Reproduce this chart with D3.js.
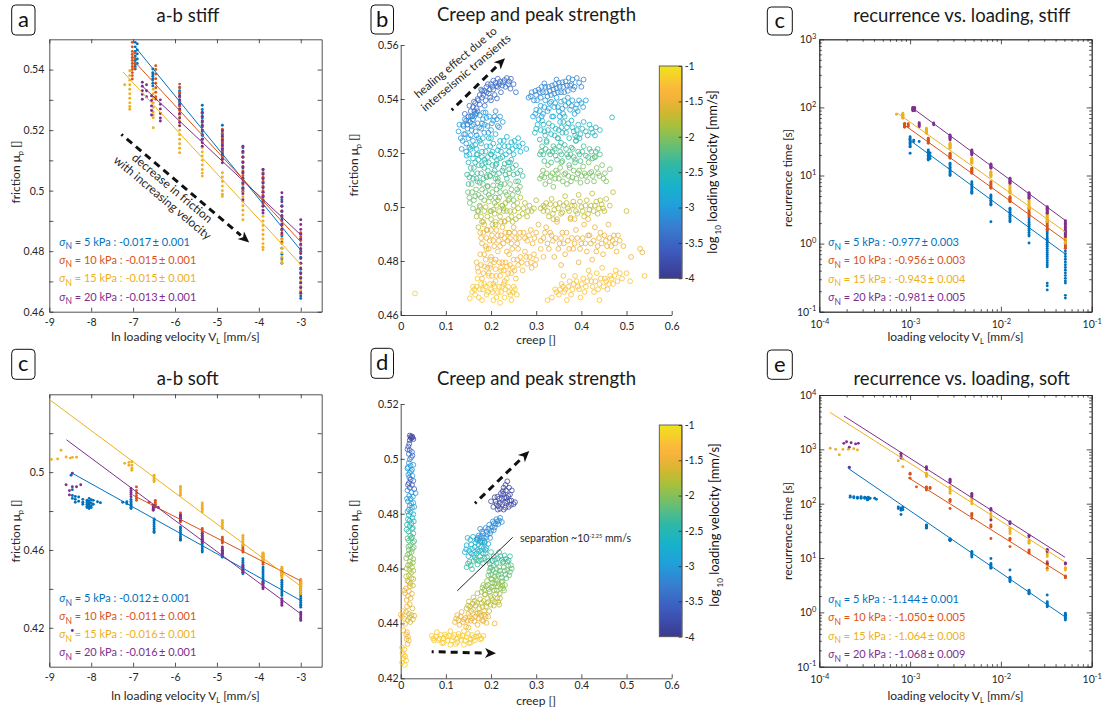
<!DOCTYPE html>
<html><head><meta charset="utf-8">
<script src="https://cdn.jsdelivr.net/npm/d3@7"></script>
<style>
body{margin:0;background:#fff}
svg{font-family:Lato,"Noto Sans",sans-serif}
</style>
</head><body>
<script>
// ---------- shared series info ----------
const stressKPa = [5, 10, 15, 20];
const seriesColors = ['#0072BD', '#D95319', '#EDB120', '#7E2F8E'];

// ---------- (a) a-b stiff : [ln V_L, friction values] ----------
const abStiff5 = [
  [-6.95,[0.549,0.5475,0.546,0.5445,0.543,0.5418,0.541,0.5402]],
  [-6.9,[0.5485,0.5465,0.5452,0.5435,0.542]],
  [-6.53,[0.5402,0.539,0.5378,0.5366,0.5355,0.5346,0.5385,0.537]],
  [-5.89,[0.5341,0.533,0.532,0.531,0.53,0.529,0.528,0.5269]],
  [-5.35,[0.5282,0.5268,0.5255,0.524,0.5225,0.521,0.5195,0.5182,0.517]],
  [-4.87,[0.5216,0.52,0.5185,0.517,0.5155,0.514,0.5125,0.5112,0.5103]],
  [-4.38,[0.5142,0.5125,0.511,0.5092,0.5075,0.5058,0.504,0.5025,0.501,0.4998]],
  [-3.9,[0.507,0.5055,0.504,0.5025,0.501,0.4995,0.498,0.4965,0.4948]],
  [-3.45,[0.497,0.495,0.493,0.491,0.489,0.487,0.485,0.483,0.481,0.479,0.4775,0.476]],
  [-3.0,[0.486,0.484,0.482,0.48,0.478,0.476,0.474,0.4725,0.471,0.4695,0.468,0.4665,0.4652,0.4644]]
];
const abStiff10 = [
  [-7.02,[0.549,0.5475,0.546,0.545,0.544,0.543,0.542,0.541,0.54,0.539,0.538,0.5369]],
  [-6.96,[0.5455,0.5438,0.542,0.5405]],
  [-6.46,[0.5413,0.54,0.5385,0.537,0.5355,0.534,0.5325,0.531,0.5302]],
  [-5.89,[0.5352,0.534,0.5325,0.531,0.5295,0.528,0.5265,0.5252]],
  [-5.35,[0.5258,0.5245,0.523,0.5215,0.52,0.5185,0.517]],
  [-4.87,[0.5203,0.519,0.5175,0.516,0.5145,0.513,0.5115,0.5103]],
  [-4.38,[0.5125,0.511,0.5095,0.508,0.5065,0.505,0.5035,0.502,0.5004]],
  [-3.9,[0.5059,0.5045,0.503,0.5015,0.5,0.4985,0.497,0.4958,0.4948]],
  [-3.45,[0.4948,0.4932,0.4915,0.49,0.4885,0.487,0.4855,0.484,0.4827]],
  [-3.0,[0.486,0.4848,0.4835,0.482,0.4808,0.4794]]
];
const abStiff15 = [
  [-7.2,[0.535]],
  [-7.08,[0.5396,0.538,0.5365,0.535,0.5335,0.532,0.5305,0.529,0.5278,0.5269]],
  [-6.52,[0.5335,0.532,0.5305,0.529,0.5275,0.526,0.525,0.5241,0.5208]],
  [-5.89,[0.5247,0.523,0.5215,0.52,0.5185,0.517,0.5155,0.514,0.5125]],
  [-5.35,[0.5142,0.5128,0.5115,0.51,0.5085,0.507,0.5058,0.5048]],
  [-4.87,[0.5059,0.5045,0.503,0.5015,0.5,0.4988,0.4981]],
  [-4.38,[0.4993,0.498,0.4965,0.495,0.4935,0.492,0.4904]],
  [-3.9,[0.4915,0.49,0.4885,0.487,0.4855,0.484,0.4825,0.4813,0.4805]],
  [-3.45,[0.4838,0.4825,0.481,0.4795,0.478,0.4768,0.476]],
  [-3.0,[0.476,0.4745,0.473,0.4715,0.47,0.4685,0.4672,0.4661]]
];
const abStiff20 = [
  [-6.78,[0.5358,0.5345,0.533,0.5318,0.5302]],
  [-6.68,[0.535,0.533,0.531]],
  [-6.56,[0.5313,0.5298,0.528,0.5265,0.525]],
  [-6.35,[0.53,0.5285,0.527,0.5255,0.524,0.523]],
  [-5.89,[0.5313,0.53,0.5285,0.527,0.5255,0.524,0.5225,0.5214]],
  [-5.35,[0.5258,0.5245,0.523,0.5215,0.52,0.5185,0.517,0.5158,0.5147]],
  [-4.87,[0.5197,0.518,0.5165,0.515,0.5135,0.512,0.5105,0.5092]],
  [-4.38,[0.5147,0.513,0.5112,0.5095,0.5078,0.506,0.5042,0.5025,0.5008,0.499,0.497]],
  [-3.9,[0.507,0.5055,0.504,0.5025,0.501,0.4995,0.498,0.4965,0.495,0.4935,0.4926]],
  [-3.45,[0.4993,0.4978,0.4963,0.4948,0.4933,0.4918,0.4903,0.4888,0.4873,0.486]],
  [-3.0,[0.4904,0.4888,0.4872,0.4856,0.484,0.4824,0.4808,0.4792,0.4776,0.476,0.4744,0.4728,0.4712,0.4696,0.468,0.4661]]
];
const abStiffSlope = [-0.017, -0.015, -0.015, -0.013];
const abStiffErr = [0.001, 0.001, 0.001, 0.001];
const abStiffFitMid = [[-4.975,0.5139],[-5.02,0.5134],[-5.12,0.5074],[-4.9,0.5101]];
const abStiffFitSpan = [[-6.95,-3.0],[-7.04,-3.0],[-7.24,-3.0],[-6.8,-3.0]];

// ---------- (c, lower) a-b soft : [ln V_L, friction values] ----------
const abSoft5 = [
  [-8.48,[0.4984]],[-8.45,[0.491,0.488,0.4865]],[-8.38,[0.4875,0.486,0.4845]],[-8.3,[0.4872,0.485]],
  [-8.2,[0.486,0.4845,0.4835]],[-8.1,[0.4855,0.4845,0.4835,0.4825,0.4818]],
  [-8.05,[0.4865,0.485,0.484,0.483,0.482,0.4813]],[-8.0,[0.4858,0.4842,0.4828,0.4818]],
  [-7.95,[0.4855,0.4835]],[-7.85,[0.4848]],[-7.78,[0.4843]],
  [-7.25,[0.4845]],[-7.15,[0.4848,0.4838]],
  [-7.05,[0.486,0.485,0.4842,0.4835,0.4828,0.482,0.4813]],
  [-6.5,[0.476,0.475,0.474,0.473,0.472,0.471,0.4702,0.4695,0.469]],
  [-5.87,[0.4718,0.471,0.47,0.469,0.468,0.467,0.466,0.4655,0.465]],
  [-5.35,[0.4666,0.4655,0.4645,0.4635,0.4625,0.4615,0.4605,0.4596,0.4589]],
  [-4.87,[0.4598,0.459,0.4582,0.4575,0.4568,0.4563]],
  [-4.38,[0.4555,0.4545,0.4535,0.4525,0.4515,0.4505,0.4495,0.4486,0.4478]],
  [-3.9,[0.4512,0.4502,0.4492,0.4482,0.4472,0.4462,0.4452,0.4442,0.4434,0.4427]],
  [-3.45,[0.4444,0.4434,0.4424,0.4414,0.4404,0.4394,0.4384,0.4375,0.4366]],
  [-3.0,[0.44,0.439,0.438,0.437,0.436,0.435,0.434,0.433,0.432,0.4315,0.4306]]
];
const abSoft10 = [
  [-6.92,[0.4924,0.4905,0.489,0.4878,0.4866,0.4855]],
  [-6.62,[0.4845]],[-6.47,[0.4855,0.4845,0.4835,0.4828,0.482]],
  [-5.87,[0.479,0.478,0.477,0.476,0.4752,0.4744]],
  [-5.35,[0.471,0.4702,0.4695,0.4688,0.4684]],
  [-4.87,[0.4666,0.4658,0.465,0.4643,0.4636]],
  [-4.38,[0.4624,0.4615,0.4606,0.4597,0.4589]],
  [-3.9,[0.4581,0.4572,0.4563,0.4554,0.4545,0.4535,0.4526]],
  [-3.45,[0.4504,0.4495,0.4486,0.4477,0.4469]],
  [-3.0,[0.4447,0.4438,0.4429,0.442,0.4412,0.4409]]
];
const abSoft15 = [
  [-8.95,[0.5065]],[-8.8,[0.5068]],[-8.72,[0.5113]],[-8.6,[0.5078]],[-8.5,[0.5072]],[-8.45,[0.5076]],[-8.35,[0.5077]],
  [-7.2,[0.5045]],[-7.1,[0.505,0.5035]],[-7.03,[0.5053,0.5035,0.502,0.501]],
  [-6.5,[0.4984,0.4975,0.4966,0.4958,0.495]],
  [-5.87,[0.4927,0.4918,0.4909,0.49,0.489,0.4881]],
  [-5.35,[0.4841,0.4832,0.4823,0.4814,0.4805,0.4795]],
  [-4.87,[0.4752,0.4743,0.4734,0.4725,0.4716,0.471]],
  [-4.38,[0.4675,0.4665,0.4655,0.4645,0.4635,0.4624]],
  [-3.9,[0.4584,0.4576,0.4568,0.456,0.4552,0.4546]],
  [-3.45,[0.4512,0.4502,0.4492,0.4482,0.4472,0.4464,0.4457]],
  [-3.0,[0.4444,0.4434,0.4424,0.4414,0.4404,0.4394,0.4384,0.4375]]
];
const abSoft20 = [
  [-8.6,[0.4935]],[-8.52,[0.4905,0.4883]],[-8.45,[0.4994,0.4925,0.4186]],[-8.35,[0.4925]],[-8.25,[0.4935]],
  [-7.05,[0.4916,0.4905,0.4895,0.4885,0.4873]],
  [-6.52,[0.483,0.4822,0.4814,0.4807,0.4804]],[-6.4,[0.4818]],
  [-5.87,[0.4778,0.477,0.4762,0.4753]],
  [-5.35,[0.4684,0.4675,0.4666,0.4657,0.4648,0.4641]],
  [-4.87,[0.4615,0.4606,0.4597,0.4589,0.4581]],
  [-4.38,[0.452,0.4511,0.4502,0.4494,0.4486]],
  [-3.9,[0.4435,0.4426,0.4417,0.4408,0.44]],
  [-3.45,[0.4349,0.434,0.4331,0.4322,0.4315]],
  [-3.0,[0.428,0.427,0.426,0.425,0.4245,0.4238]]
];
const abSoftSlope = [-0.012, -0.011, -0.016, -0.016];
const abSoftErr = [0.001, 0.001, 0.001, 0.001];
const abSoftFitMid = [[-5.74,0.4669],[-5.0,0.4661],[-5.99,0.4892],[-5.795,0.4719]];
const abSoftFitSpan = [[-8.48,-3.0],[-7.0,-3.0],[-8.98,-3.0],[-8.59,-3.0]];

// ---------- (c, upper) recurrence, stiff : [log10 V_L, log10 recurrence time] ----------
const recStiff5 = [
  [-3.0,[1.57,1.55,1.53,1.51,1.49,1.47,1.45,1.43,1.42,1.326]],[-2.96,[1.52,1.5]],[-2.9,[1.5]],
  [-2.8,[1.375,1.355,1.335,1.315,1.295,1.275,1.255,1.235,1.228]],[-2.78,[1.33,1.29,1.25]],
  [-2.56,[1.18,1.16,1.14,1.12,1.1,1.08,1.06,1.04,1.02,1.0]],
  [-2.32,[0.909,0.89,0.87,0.85,0.83,0.81,0.79,0.77,0.75,0.739]],
  [-2.11,[0.713,0.695,0.675,0.655,0.635,0.615,0.595,0.577,0.567,0.32]],
  [-1.9,[0.52,0.5,0.48,0.46,0.44,0.42,0.4,0.38,0.36,0.34,0.32]],
  [-1.69,[0.375,0.345,0.315,0.285,0.255,0.225,0.195,0.165,0.135,0.11,0.009]],
  [-1.49,[0.2,0.17,0.14,0.11,0.08,0.05,0.02,-0.01,-0.04,-0.07,-0.1,-0.13,-0.16,-0.19,-0.22,-0.25,-0.28,-0.31,-0.34,-0.58,-0.62,-0.68]],
  [-1.29,[0.126,0.09,0.05,0.01,-0.03,-0.07,-0.11,-0.15,-0.19,-0.23,-0.27,-0.31,-0.35,-0.39,-0.43,-0.47,-0.51,-0.55,-0.58,-0.76,-0.8]]
];
const recStiff10 = [
  [-3.06,[1.766,1.755,1.745,1.735,1.725,1.715,1.708]],[-3.02,[1.76,1.74,1.72]],
  [-2.8,[1.546,1.535,1.525,1.515,1.505,1.495,1.485,1.473]],
  [-2.56,[1.326,1.315,1.305,1.295,1.285,1.275,1.265,1.253]],
  [-2.32,[1.106,1.095,1.085,1.075,1.065,1.055,1.045,1.033]],
  [-2.11,[0.909,0.895,0.88,0.865,0.85,0.835,0.822,0.812]],
  [-1.9,[0.689,0.678,0.667,0.656,0.645,0.634,0.623,0.615]],
  [-1.69,[0.518,0.5,0.482,0.464,0.446,0.428,0.41,0.395]],
  [-1.49,[0.347,0.33,0.31,0.29,0.27,0.25,0.23,0.21,0.2]],
  [-1.29,[0.151,0.13,0.1,0.07,0.04,0.01,-0.02,-0.05,-0.069]]
];
const recStiff15 = [
  [-3.15,[1.9]],[-3.08,[1.913,1.9,1.89,1.88,1.87,1.86,1.85,1.84]],
  [-2.82,[1.693,1.68,1.67,1.66,1.65,1.64,1.63,1.62]],
  [-2.56,[1.473,1.46,1.45,1.44,1.43,1.42,1.41,1.4]],
  [-2.32,[1.253,1.24,1.23,1.22,1.21,1.2,1.19,1.18]],
  [-2.11,[1.056,1.045,1.035,1.025,1.015,1.005,0.995,0.982]],
  [-1.9,[0.86,0.845,0.83,0.815,0.8,0.785,0.77,0.755,0.74]],
  [-1.69,[0.64,0.625,0.61,0.595,0.58,0.565,0.55,0.535,0.518]],
  [-1.49,[0.445,0.43,0.415,0.4,0.385,0.37,0.355,0.34,0.322]],
  [-1.29,[0.2,0.18,0.16,0.14,0.12,0.1,0.08,0.06,0.04,0.02,0.004]]
];
const recStiff20 = [
  [-2.97,[2.0,1.99,1.98,1.97,1.96,1.95]],[-2.95,[2.0,1.985,1.965,1.952]],
  [-2.9,[1.775,1.76,1.745,1.73,1.717]],[-2.74,[1.77,1.755,1.745]],
  [-2.56,[1.595,1.585,1.575,1.565,1.555,1.545,1.535,1.52]],
  [-2.32,[1.375,1.365,1.355,1.345,1.335,1.325,1.315,1.3]],
  [-2.11,[1.17,1.16,1.15,1.14,1.13,1.12,1.106]],
  [-1.9,[0.959,0.948,0.937,0.926,0.915,0.904,0.893,0.885]],
  [-1.69,[0.748,0.736,0.724,0.712,0.7,0.688,0.676,0.665]],
  [-1.49,[0.542,0.53,0.518,0.506,0.494,0.482,0.47,0.458,0.445]],
  [-1.29,[0.336,0.32,0.3,0.28,0.26,0.24,0.22,0.2,0.18,0.16,0.14,0.12,0.101]]
];
const recStiffSlope = [-0.977, -0.956, -0.943, -0.981];
const recStiffErr = [0.003, 0.003, 0.004, 0.005];
const recStiffFitMid = [[-2.155,0.69],[-2.18,0.8975],[-2.215,1.044],[-2.1275,1.161]];
const recStiffFitSpan = [[-3.02,-1.29],[-3.08,-1.29],[-3.14,-1.29],[-2.965,-1.29]];

// ---------- (e) recurrence, soft : [log10 V_L, log10 recurrence time] ----------
const recSoft5 = [
  [-3.67,[2.662]],[-3.66,[2.14,2.12]],[-3.62,[2.13,2.11]],[-3.58,[2.12,2.1]],[-3.54,[2.13,2.11,2.1]],
  [-3.5,[2.12,2.1]],[-3.47,[2.11,2.09,2.08,2.07]],[-3.46,[2.12,2.1,2.08]],[-3.44,[2.1]],[-3.39,[2.1]],[-3.37,[2.08]],
  [-3.13,[1.94,1.91]],[-3.1,[1.92,1.9,1.88,1.8]],[-3.08,[1.93,1.89]],
  [-2.82,[1.61,1.6,1.59,1.58,1.57,1.56,1.55]],
  [-2.56,[1.35,1.345,1.34,1.335,1.33,1.325,1.32]],
  [-2.32,[1.12,1.1,1.08,1.06,1.04,1.02]],
  [-2.11,[0.99,0.9,0.88,0.86,0.84,0.82,0.81]],
  [-1.9,[0.78,0.645,0.625,0.605,0.585,0.564]],
  [-1.69,[0.41,0.395,0.38,0.365,0.35,0.34]],
  [-1.49,[0.32,0.196,0.175,0.155,0.135,0.115,0.104]],
  [-1.29,[-0.017,-0.035,-0.055,-0.075,-0.095,-0.115,-0.14]]
];
const recSoft10 = [
  [-3.0,[2.56,2.54,2.47]],[-2.93,[2.31]],[-2.82,[2.31,2.29,2.27,2.25]],[-2.78,[2.3,2.28]],
  [-2.56,[2.08,2.06,2.04,1.91]],
  [-2.32,[1.82,1.8,1.78,1.73]],
  [-2.11,[1.61,1.59,1.57,1.36]],
  [-1.9,[1.36,1.35,1.33,1.21]],
  [-1.69,[1.15,1.13,1.11,1.09]],
  [-1.49,[0.93,0.9,0.88,0.81]],
  [-1.29,[0.67,0.656,0.645,0.635]]
];
const recSoft15 = [
  [-3.88,[3.02]],[-3.82,[3.0]],[-3.78,[2.9]],[-3.74,[3.0]],[-3.68,[3.0]],[-3.62,[3.01]],[-3.58,[2.99]],
  [-3.13,[2.79]],[-3.08,[2.82,2.68]],
  [-2.82,[2.56,2.54,2.52,2.5]],
  [-2.56,[2.31,2.27,2.23,2.19]],
  [-2.32,[2.1,2.07,2.04,2.0]],
  [-2.11,[1.82,1.78,1.74,1.7]],
  [-1.9,[1.55,1.52,1.49,1.45]],
  [-1.69,[1.33,1.31,1.29,1.27]],
  [-1.49,[1.09,1.06,1.03,0.86,0.78]],
  [-1.29,[0.82,0.81,0.8,0.78]]
];
const recSoft20 = [
  [-3.73,[3.11]],[-3.7,[3.14]],[-3.67,[3.04,2.67]],[-3.65,[3.12]],[-3.6,[3.1]],[-3.57,[3.11]],
  [-3.1,[2.93,2.9,2.87,2.84]],
  [-2.82,[2.68,2.66,2.64,2.63]],
  [-2.56,[2.45,2.43,2.41,2.39]],
  [-2.32,[2.19,2.17,2.15,2.13]],
  [-2.11,[1.91,1.89,1.88,1.7]],
  [-1.9,[1.67,1.65,1.63]],
  [-1.69,[1.42,1.41,1.39]],
  [-1.49,[1.16,1.14,1.12,0.9]],
  [-1.29,[0.91,0.9,0.89]]
];
const recSoftSlope = [-1.144, -1.050, -1.064, -1.068];
const recSoftErr = [0.001, 0.005, 0.008, 0.009];
const recSoftFitMid = [[-2.482,1.277],[-2.155,1.571],[-2.588,2.304],[-2.511,2.313]];
const recSoftFitSpan = [[-3.67,-1.294],[-3.02,-1.294],[-3.882,-1.294],[-3.728,-1.294]];

// ---------- (b) creep vs peak friction, stiff : one group per loading velocity ----------
const creepStiffLogV = [-3.45,-3.2,-3.05,-2.95,-2.7,-2.6,-2.35,-2.3,-2.1,-2.05,-1.8,-1.75,-1.5,-1.5,-1.35,-1.25,-1.2];
const creepStiffPts = [
  [[0.139,0.53],[0.145,0.532],[0.15,0.5335],[0.142,0.5345],[0.155,0.5355],[0.16,0.537],[0.152,0.5375],[0.165,0.5385],[0.17,0.54],[0.162,0.539],[0.175,0.5415],[0.18,0.5405],[0.185,0.543],[0.178,0.5435],[0.19,0.5445],[0.195,0.542],[0.2,0.5455],[0.205,0.5435],[0.21,0.546],[0.215,0.5445],[0.22,0.5465],[0.225,0.545],[0.23,0.547],[0.235,0.5478],[0.24,0.5465],[0.188,0.5395],[0.198,0.5405],[0.17,0.5355],[0.158,0.5335],[0.208,0.5415],[0.222,0.5425],[0.232,0.5445],[0.148,0.5305],[0.165,0.5345],[0.243,0.5438],[0.25,0.5455],[0.255,0.5425],
   [0.16,0.5325],[0.168,0.5365],[0.175,0.538],[0.183,0.5415],[0.19,0.5425],[0.197,0.5435],[0.203,0.5445],[0.212,0.5448],[0.218,0.5455],[0.227,0.5462],[0.193,0.5455],[0.205,0.5468],[0.215,0.5475],[0.18,0.543],[0.172,0.5395],[0.153,0.5315],[0.163,0.5355],[0.186,0.5375],[0.2,0.5395],[0.213,0.5402],[0.244,0.5475],[0.238,0.5455]],
  [[0.283,0.5405],[0.29,0.5425],[0.295,0.5395],[0.3,0.5415],[0.305,0.5435],[0.31,0.5405],[0.315,0.5425],[0.32,0.5445],[0.325,0.541],[0.33,0.543],[0.335,0.545],[0.34,0.542],[0.345,0.544],[0.35,0.546],[0.355,0.5425],[0.36,0.5445],[0.365,0.5465],[0.37,0.543],[0.375,0.545],[0.38,0.5472],[0.385,0.5445],[0.39,0.5478],[0.405,0.5472],[0.318,0.5458],[0.345,0.5472],[0.372,0.5478],
   [0.288,0.541],[0.298,0.543],[0.308,0.5425],[0.312,0.5445],[0.322,0.5425],[0.328,0.5445],[0.338,0.5435],[0.342,0.5455],[0.352,0.5445],[0.358,0.5462],[0.362,0.5425],[0.368,0.545],[0.378,0.5455],[0.382,0.5435],[0.395,0.546],[0.4,0.5445],[0.333,0.5415],[0.348,0.5425]],
  [[0.128,0.528],[0.133,0.5255],[0.138,0.5305],[0.14,0.527],[0.145,0.5235],[0.148,0.529],[0.15,0.532],[0.155,0.5265],[0.158,0.53],[0.16,0.5245],[0.163,0.5335],[0.166,0.528],[0.17,0.531],[0.172,0.5255],[0.175,0.534],[0.178,0.529],[0.182,0.5325],[0.185,0.5275],[0.188,0.535],[0.192,0.53],[0.196,0.5335],[0.2,0.5285],[0.205,0.532],[0.21,0.5355],[0.215,0.53],[0.22,0.5335],[0.226,0.5315],[0.135,0.5215],[0.145,0.5205],[0.152,0.522],
   [0.13,0.5305],[0.137,0.5245],[0.143,0.527],[0.15,0.5255],[0.157,0.5285],[0.162,0.5305],[0.168,0.5265],[0.174,0.5295],[0.18,0.531],[0.186,0.5305],[0.19,0.533],[0.194,0.5275],[0.202,0.531],[0.208,0.5335],[0.213,0.5325],[0.218,0.5295],[0.142,0.5325],[0.155,0.5335],[0.168,0.5345],[0.183,0.535]],
  [[0.293,0.5335],[0.3,0.536],[0.305,0.5325],[0.31,0.5375],[0.315,0.5345],[0.32,0.5395],[0.325,0.5355],[0.33,0.5385],[0.335,0.5335],[0.34,0.537],[0.345,0.5405],[0.35,0.5355],[0.355,0.539],[0.36,0.5345],[0.365,0.5375],[0.37,0.5405],[0.375,0.536],[0.38,0.5395],[0.385,0.5345],[0.39,0.538],[0.395,0.5395],[0.404,0.537],[0.41,0.5395],[0.302,0.5395],
   [0.298,0.5345],[0.308,0.5355],[0.318,0.537],[0.328,0.5365],[0.333,0.539],[0.342,0.5385],[0.348,0.537],[0.358,0.5365],[0.362,0.5395],[0.372,0.5385],[0.378,0.5375],[0.388,0.5365],[0.392,0.5355],[0.4,0.5385],[0.312,0.5335],[0.352,0.5335]],
  [[0.146,0.519],[0.15,0.5165],[0.155,0.5215],[0.16,0.518],[0.165,0.523],[0.17,0.5195],[0.175,0.5245],[0.18,0.5205],[0.185,0.5175],[0.19,0.5225],[0.195,0.5255],[0.2,0.5195],[0.205,0.5235],[0.21,0.527],[0.215,0.521],[0.22,0.5245],[0.225,0.5185],[0.23,0.5225],[0.235,0.526],[0.24,0.5205],[0.245,0.524],[0.25,0.5195],[0.255,0.5225],[0.26,0.5255],[0.265,0.5205],[0.27,0.5235],[0.278,0.5215],[0.242,0.5165],[0.212,0.516],[0.18,0.5155],
   [0.152,0.5195],[0.158,0.5225],[0.168,0.5215],[0.172,0.5175],[0.178,0.5235],[0.188,0.5205],[0.193,0.5185],[0.198,0.5225],[0.203,0.5205],[0.208,0.5185],[0.218,0.5225],[0.222,0.5205],[0.228,0.5245],[0.233,0.5195],[0.238,0.5225],[0.248,0.5215],[0.252,0.5245],[0.262,0.5225],[0.182,0.5255],[0.2,0.5255]],
  [[0.297,0.5275],[0.303,0.5305],[0.308,0.525],[0.313,0.532],[0.318,0.528],[0.323,0.5245],[0.328,0.531],[0.333,0.527],[0.338,0.5335],[0.343,0.529],[0.348,0.5255],[0.353,0.5315],[0.358,0.5275],[0.363,0.5335],[0.368,0.5295],[0.373,0.5255],[0.378,0.532],[0.383,0.528],[0.388,0.5245],[0.393,0.5305],[0.398,0.527],[0.405,0.5315],[0.41,0.528],[0.418,0.5305],[0.425,0.5275],[0.432,0.5295],[0.441,0.5285],[0.468,0.5332],[0.355,0.5238],
   [0.3,0.529],[0.31,0.5285],[0.316,0.5305],[0.32,0.5265],[0.326,0.5285],[0.336,0.53],[0.341,0.5265],[0.35,0.5285],[0.356,0.5295],[0.366,0.5275],[0.371,0.531],[0.38,0.5295],[0.386,0.5265],[0.39,0.5285],[0.396,0.5255],[0.402,0.529],[0.414,0.5265],[0.422,0.529],[0.43,0.5265],[0.36,0.5315]],
  [[0.147,0.512],[0.15,0.5085],[0.155,0.5145],[0.16,0.5105],[0.165,0.5165],[0.17,0.5125],[0.175,0.509],[0.18,0.5185],[0.185,0.5145],[0.19,0.511],[0.195,0.5165],[0.2,0.5195],[0.205,0.5125],[0.21,0.5155],[0.215,0.5095],[0.22,0.518],[0.225,0.5135],[0.23,0.516],[0.235,0.5105],[0.24,0.514],[0.245,0.5175],[0.25,0.512],[0.255,0.5155],[0.26,0.5095],[0.265,0.5135],[0.27,0.5115],[0.22,0.5075],[0.192,0.5078],[0.168,0.5195],
   [0.152,0.511],[0.158,0.5125],[0.162,0.5145],[0.168,0.5105],[0.173,0.5155],[0.178,0.5125],[0.183,0.5105],[0.188,0.5165],[0.193,0.5135],[0.198,0.5115],[0.203,0.5155],[0.208,0.5135],[0.213,0.5175],[0.218,0.5125],[0.228,0.5145],[0.232,0.512],[0.238,0.5165],[0.248,0.5145],[0.258,0.5125],[0.21,0.5105]],
  [[0.308,0.5195],[0.313,0.5225],[0.318,0.517],[0.323,0.524],[0.328,0.5205],[0.333,0.5165],[0.338,0.5225],[0.343,0.519],[0.348,0.5255],[0.353,0.5205],[0.358,0.517],[0.363,0.523],[0.368,0.5195],[0.373,0.5155],[0.378,0.522],[0.383,0.5185],[0.388,0.5245],[0.393,0.5205],[0.398,0.517],[0.405,0.5225],[0.41,0.519],[0.418,0.5215],[0.425,0.518],[0.432,0.5205],[0.441,0.5195],[0.39,0.5258],
   [0.311,0.5205],[0.316,0.5195],[0.321,0.5215],[0.331,0.5195],[0.336,0.5205],[0.341,0.5215],[0.346,0.5175],[0.351,0.5225],[0.356,0.5195],[0.366,0.5215],[0.371,0.5185],[0.376,0.5195],[0.381,0.5215],[0.386,0.5165],[0.396,0.5195],[0.402,0.5205],[0.415,0.5185],[0.422,0.5205],[0.43,0.5185],[0.436,0.5215]],
  [[0.149,0.5055],[0.153,0.5015],[0.157,0.5085],[0.16,0.4995],[0.165,0.504],[0.17,0.5095],[0.175,0.5005],[0.18,0.5065],[0.185,0.5025],[0.19,0.5115],[0.195,0.5045],[0.2,0.4985],[0.205,0.508],[0.21,0.5035],[0.215,0.5105],[0.22,0.5055],[0.225,0.5005],[0.23,0.5085],[0.235,0.5045],[0.24,0.5125],[0.245,0.5065],[0.25,0.5025],[0.255,0.5095],[0.26,0.5055],[0.264,0.5075],[0.172,0.4985],[0.198,0.5115],[0.228,0.4995],
   [0.152,0.5035],[0.158,0.5055],[0.162,0.5025],[0.167,0.5065],[0.172,0.5045],[0.178,0.5035],[0.182,0.5085],[0.188,0.5055],[0.193,0.5075],[0.198,0.5035],[0.203,0.5055],[0.208,0.5015],[0.212,0.5065],[0.218,0.5035],[0.222,0.5085],[0.232,0.5055],[0.238,0.5025],[0.242,0.5085],[0.248,0.5045],[0.258,0.5065]],
  [[0.308,0.5105],[0.315,0.5135],[0.32,0.5085],[0.326,0.5155],[0.332,0.5115],[0.338,0.5075],[0.344,0.5135],[0.35,0.5105],[0.356,0.5165],[0.362,0.512],[0.368,0.5085],[0.374,0.5145],[0.38,0.511],[0.386,0.5175],[0.392,0.5125],[0.398,0.509],[0.404,0.515],[0.41,0.5115],[0.416,0.5165],[0.422,0.513],[0.428,0.5095],[0.434,0.5145],[0.44,0.5115],[0.446,0.5155],[0.452,0.5125],[0.463,0.514],[0.455,0.5095],[0.43,0.5185],
   [0.312,0.5115],[0.318,0.511],[0.323,0.5125],[0.33,0.5095],[0.336,0.5125],[0.342,0.5105],[0.348,0.5125],[0.353,0.5145],[0.359,0.5095],[0.365,0.5125],[0.371,0.5115],[0.377,0.5095],[0.383,0.5135],[0.389,0.5105],[0.395,0.5135],[0.401,0.5115],[0.407,0.5125],[0.413,0.5095],[0.419,0.5125],[0.425,0.5115],[0.437,0.5125],[0.449,0.5105]],
  [[0.168,0.4965],[0.172,0.4925],[0.176,0.5],[0.18,0.4945],[0.185,0.4985],[0.19,0.4915],[0.195,0.502],[0.2,0.4955],[0.205,0.499],[0.21,0.4935],[0.215,0.5025],[0.22,0.4965],[0.225,0.5005],[0.23,0.4945],[0.235,0.4985],[0.24,0.503],[0.245,0.4965],[0.25,0.5005],[0.255,0.4955],[0.26,0.4995],[0.265,0.5035],[0.27,0.4975],[0.275,0.5015],[0.28,0.4965],[0.285,0.5005],[0.29,0.4985],[0.3,0.5025],[0.31,0.4995],[0.316,0.5005],[0.24,0.4905],
   [0.17,0.4985],[0.178,0.4965],[0.183,0.4945],[0.188,0.5],[0.192,0.4965],[0.198,0.4985],[0.203,0.4935],[0.208,0.4975],[0.212,0.5005],[0.218,0.4985],[0.222,0.4945],[0.228,0.4985],[0.232,0.5015],[0.238,0.4955],[0.242,0.4985],[0.248,0.4945],[0.252,0.4985],[0.258,0.5015],[0.262,0.4965],[0.272,0.4995],[0.282,0.4985],[0.295,0.4995]],
  [[0.316,0.4985],[0.322,0.5015],[0.328,0.4965],[0.334,0.503],[0.34,0.499],[0.346,0.4955],[0.352,0.5015],[0.358,0.498],[0.364,0.504],[0.37,0.4995],[0.376,0.496],[0.382,0.502],[0.388,0.4985],[0.394,0.5045],[0.4,0.5],[0.406,0.4965],[0.412,0.5025],[0.418,0.499],[0.424,0.505],[0.43,0.5005],[0.436,0.4975],[0.442,0.5025],[0.448,0.4995],[0.455,0.503],[0.463,0.5005],[0.47,0.5055],[0.5,0.4985],
   [0.319,0.5],[0.325,0.4985],[0.331,0.501],[0.337,0.4975],[0.343,0.501],[0.349,0.4995],[0.355,0.4975],[0.361,0.5005],[0.367,0.5015],[0.373,0.4985],[0.379,0.5005],[0.385,0.5005],[0.391,0.4975],[0.397,0.502],[0.403,0.4985],[0.409,0.5005],[0.415,0.4975],[0.421,0.5005],[0.427,0.4985],[0.433,0.502],[0.439,0.4995],[0.445,0.501],[0.451,0.4985]],
  [[0.176,0.4905],[0.18,0.4865],[0.185,0.4935],[0.19,0.4885],[0.195,0.4845],[0.2,0.4915],[0.205,0.4875],[0.21,0.4945],[0.215,0.4895],[0.22,0.4855],[0.225,0.4925],[0.23,0.4885],[0.235,0.4835],[0.24,0.4905],[0.245,0.4865],[0.25,0.4925],[0.255,0.4885],[0.26,0.4845],[0.264,0.4905],[0.2,0.4815],[0.185,0.4825],[0.21,0.4805],[0.23,0.4948],
   [0.178,0.4885],[0.183,0.4905],[0.188,0.4855],[0.192,0.4915],[0.197,0.4875],[0.202,0.4895],[0.207,0.4855],[0.212,0.4915],[0.217,0.4875],[0.222,0.4895],[0.227,0.4865],[0.232,0.4905],[0.237,0.4875],[0.242,0.4885],[0.247,0.4845],[0.252,0.4905],[0.258,0.4865],[0.262,0.4885]],
  [[0.272,0.4905],[0.28,0.4875],[0.288,0.4915],[0.296,0.4885],[0.305,0.4935],[0.316,0.4885],[0.322,0.4925],[0.328,0.4845],[0.334,0.4895],[0.34,0.4815],[0.346,0.4945],[0.352,0.4865],[0.358,0.4905],[0.364,0.4825],[0.37,0.4875],[0.376,0.4955],[0.382,0.4845],[0.388,0.4915],[0.394,0.4795],[0.4,0.4865],[0.406,0.4935],[0.412,0.4835],[0.418,0.4895],[0.424,0.4805],[0.43,0.4925],[0.436,0.4855],[0.442,0.4905],[0.448,0.4825],[0.454,0.4875],[0.46,0.4935],[0.466,0.4855],[0.472,0.4895],[0.478,0.4835],[0.485,0.4875],[0.493,0.4855],[0.355,0.4785],[0.385,0.4955],[0.415,0.4955],[0.338,0.4955],[0.53,0.4845],[0.535,0.4832],[0.51,0.4815],
   [0.275,0.4885],[0.284,0.4895],[0.292,0.4865],[0.3,0.4905],[0.31,0.4875],[0.319,0.4905],[0.325,0.4865],[0.331,0.4905],[0.337,0.4875],[0.343,0.4885],[0.349,0.4845],[0.355,0.4885],[0.361,0.4865],[0.367,0.4905],[0.373,0.4845],[0.379,0.4885],[0.385,0.4865],[0.391,0.4885],[0.397,0.4845],[0.403,0.4885],[0.409,0.4865],[0.415,0.4895],[0.421,0.4865],[0.427,0.4875],[0.433,0.4835],[0.439,0.4885],[0.445,0.4865],[0.451,0.4895],[0.457,0.4855],[0.463,0.4885],[0.469,0.4875],[0.475,0.4865],[0.481,0.4895]],
  [[0.168,0.4795],[0.172,0.476],[0.176,0.4825],[0.18,0.4735],[0.185,0.478],[0.19,0.4845],[0.195,0.4755],[0.2,0.4805],[0.205,0.4715],[0.21,0.477],[0.215,0.4835],[0.22,0.4745],[0.225,0.4795],[0.23,0.4725],[0.235,0.478],[0.24,0.4825],[0.245,0.4755],[0.25,0.4805],[0.255,0.4735],[0.26,0.4785],[0.265,0.4815],[0.27,0.4765],[0.275,0.4835],[0.28,0.479],[0.285,0.4815],[0.29,0.4775],[0.295,0.4825],[0.3,0.4805],[0.31,0.4845],[0.316,0.4815],
   [0.17,0.4775],[0.178,0.4785],[0.183,0.4755],[0.188,0.4805],[0.192,0.4775],[0.198,0.4785],[0.202,0.4745],[0.207,0.4795],[0.212,0.4745],[0.218,0.4795],[0.222,0.4775],[0.228,0.4765],[0.232,0.4795],[0.238,0.4755],[0.242,0.4785],[0.248,0.4775],[0.252,0.4765],[0.258,0.4805],[0.268,0.4795],[0.278,0.4815],[0.288,0.4795],[0.298,0.4785]],
  [[0.325,0.4655],[0.335,0.4665],[0.342,0.4695],[0.35,0.4675],[0.356,0.4715],[0.362,0.4685],[0.368,0.4655],[0.374,0.4725],[0.38,0.4695],[0.386,0.4745],[0.392,0.4705],[0.398,0.4665],[0.404,0.4735],[0.41,0.4705],[0.416,0.4765],[0.422,0.4725],[0.428,0.4685],[0.434,0.4755],[0.44,0.4715],[0.446,0.4775],[0.452,0.4735],[0.458,0.4695],[0.464,0.4745],[0.47,0.4715],[0.476,0.4765],[0.49,0.4735],[0.5,0.4755],[0.508,0.4725],[0.54,0.4745],[0.36,0.4745],[0.44,0.4655],
   [0.345,0.4685],[0.353,0.4695],[0.359,0.4705],[0.365,0.4695],[0.371,0.4705],[0.377,0.4675],[0.383,0.4715],[0.389,0.4725],[0.395,0.4695],[0.401,0.4715],[0.407,0.4685],[0.413,0.4725],[0.419,0.4745],[0.425,0.4705],[0.431,0.4725],[0.437,0.4695],[0.443,0.4735],[0.449,0.4705],[0.455,0.4725],[0.461,0.4715],[0.467,0.4735],[0.473,0.4745],[0.48,0.4725],[0.485,0.4755]],
  [[0.153,0.4662],[0.16,0.4705],[0.165,0.4675],[0.17,0.4735],[0.175,0.4695],[0.18,0.4655],[0.185,0.4715],[0.19,0.4675],[0.195,0.4745],[0.2,0.4695],[0.205,0.4655],[0.21,0.4725],[0.215,0.4685],[0.22,0.4645],[0.225,0.4705],[0.23,0.4665],[0.235,0.4735],[0.24,0.4685],[0.245,0.4655],[0.25,0.4705],[0.257,0.4675],[0.0317,0.468],[0.198,0.4775],[0.222,0.4765],
   [0.158,0.4685],[0.163,0.4695],[0.168,0.4705],[0.173,0.4665],[0.178,0.4715],[0.182,0.4695],[0.188,0.4705],[0.193,0.4685],[0.198,0.4715],[0.203,0.4685],[0.208,0.4705],[0.212,0.4665],[0.218,0.4705],[0.222,0.4685],[0.228,0.4715],[0.232,0.4695],[0.238,0.4705],[0.243,0.4675],[0.248,0.4685],[0.253,0.4695]]
];

// ---------- (d) creep vs peak friction, soft ----------
// near-zero creep column: [creep, friction, log10 V_L]
const creepSoftColumn = [
  [0.02,0.5085,-3.9],[0.025,0.5082,-3.9],[0.023,0.5075,-3.9],[0.028,0.5072,-3.9],[0.02,0.5068,-3.85],[0.022,0.508,-3.9],[0.026,0.5078,-3.9],
  [0.019,0.5055,-3.7],[0.017,0.5045,-3.6],[0.015,0.5035,-3.55],[0.02,0.5032,-3.55],[0.025,0.5025,-3.5],[0.018,0.5018,-3.45],[0.026,0.5012,-3.5],[0.023,0.5005,-3.4],[0.02,0.4998,-3.2],
  [0.018,0.4985,-3.05],[0.028,0.4978,-3.05],[0.022,0.4975,-3.0],[0.016,0.497,-3.0],[0.015,0.4965,-3.1],[0.025,0.496,-3.0],[0.023,0.4955,-3.0],[0.02,0.495,-2.95],[0.017,0.4942,-3.0],[0.026,0.4938,-3.05],[0.019,0.4932,-3.2],
  [0.022,0.4925,-3.7],[0.028,0.492,-3.4],[0.018,0.4912,-3.8],[0.025,0.4905,-3.7],[0.016,0.4905,-3.6],[0.02,0.4895,-3.75],[0.03,0.489,-3.6],[0.015,0.4885,-3.2],[0.024,0.4878,-3.1],[0.033,0.4875,-3.0],
  [0.019,0.4865,-3.0],[0.027,0.4862,-3.0],[0.022,0.4855,-2.95],[0.014,0.4855,-3.0],[0.016,0.4845,-3.05],[0.028,0.484,-3.0],[0.023,0.4838,-2.95],[0.02,0.483,-2.9],[0.03,0.4825,-3.0],[0.025,0.4822,-3.0],[0.018,0.4815,-3.1],
  [0.015,0.4808,-2.8],[0.022,0.4805,-2.7],[0.028,0.4798,-2.7],[0.018,0.4795,-2.65],[0.026,0.4785,-2.6],[0.016,0.478,-2.6],[0.02,0.4775,-2.6],[0.029,0.4772,-2.55],[0.024,0.4765,-2.55],[0.014,0.476,-2.5],
  [0.02,0.4755,-2.45],[0.027,0.4748,-2.45],[0.025,0.4745,-2.4],[0.013,0.4742,-2.4],[0.017,0.4735,-2.4],[0.028,0.4728,-2.35],[0.021,0.472,-2.35],[0.025,0.4715,-2.3],[0.015,0.471,-2.25],
  [0.023,0.471,-2.25],[0.018,0.4702,-2.2],[0.03,0.47,-2.2],[0.027,0.4695,-2.2],[0.021,0.4685,-2.15],[0.017,0.468,-2.15],[0.029,0.4678,-2.1],[0.026,0.4672,-2.1],
  [0.018,0.4668,-2.1],[0.024,0.466,-2.05],[0.019,0.4655,-2.05],[0.015,0.465,-2.0],[0.022,0.4642,-2.0],[0.012,0.4638,-2.0],[0.028,0.4635,-1.95],
  [0.02,0.4625,-1.95],[0.027,0.4622,-1.95],[0.021,0.4615,-1.9],[0.016,0.4612,-1.9],[0.025,0.4605,-1.9],[0.013,0.46,-1.85],[0.019,0.4595,-1.85],[0.028,0.4592,-1.85],[0.023,0.4585,-1.85],
  [0.018,0.4575,-1.8],[0.012,0.4572,-1.75],[0.024,0.4565,-1.75],[0.028,0.4562,-1.75],[0.015,0.4555,-1.7],[0.018,0.4552,-1.7],[0.021,0.4545,-1.7],[0.027,0.4538,-1.75],[0.02,0.4535,-1.6],
  [0.012,0.4528,-1.5],[0.008,0.452,-1.5],[0.018,0.4518,-1.5],[0.01,0.451,-1.45],[0.025,0.4508,-1.55],[0.016,0.45,-1.5],[0.022,0.4492,-1.55],[0.013,0.4485,-1.45],
  [0.02,0.447,-1.5],[0.014,0.4462,-1.55],[0.026,0.4455,-1.65],
  [0.005,0.4445,-1.3],[0.012,0.4442,-1.6],[0.018,0.4435,-1.7],[0.0,0.4432,-1.25],[0.024,0.443,-1.65],[0.03,0.4428,-1.6],[0.003,0.4425,-1.3],[0.02,0.4422,-1.65],[0.008,0.4418,-1.25],[0.027,0.4415,-1.6],[0.015,0.4412,-1.7],[0.021,0.4405,-1.65],[0.01,0.4398,-1.3],
  [0.006,0.4375,-1.4],[0.014,0.4368,-1.5],[0.012,0.436,-1.45],[0.016,0.4352,-1.5],[0.013,0.4343,-1.5],[0.018,0.4338,-1.45],[0.015,0.4325,-1.45],
  [0.003,0.4312,-1.2],[0.008,0.4305,-1.25],[0.004,0.4292,-1.2],[0.007,0.4285,-1.2],[0.01,0.428,-1.2],[0.006,0.4272,-1.15],[0.012,0.4265,-1.2],[0.003,0.4258,-1.2],[0.009,0.4249,-1.15]
];
// growing-creep branch, one group per loading velocity
const creepSoftLogV = [-3.85,-3.15,-2.75,-2.35,-2.15,-1.95,-1.75,-1.5,-1.2];
const creepSoftPts = [
  [[0.2,0.4845],[0.205,0.4825],[0.208,0.486],[0.212,0.4835],[0.215,0.4815],[0.218,0.4855],[0.222,0.4875],[0.225,0.4835],[0.228,0.4815],[0.23,0.486],[0.233,0.4885],[0.236,0.4845],[0.239,0.4825],[0.242,0.487],[0.245,0.4848],[0.25,0.4835],[0.253,0.4842],[0.232,0.4905],[0.236,0.4918],[0.228,0.4895],[0.22,0.4818],[0.246,0.4885],
   [0.21,0.4845],[0.214,0.4862],[0.219,0.4838],[0.224,0.4855],[0.227,0.4872],[0.231,0.484],[0.234,0.4858],[0.238,0.4865],[0.241,0.4848],[0.226,0.4882],[0.24,0.4895],[0.216,0.4828],[0.232,0.4822],[0.244,0.4832]],
  [[0.168,0.4705],[0.172,0.472],[0.176,0.4698],[0.18,0.4735],[0.184,0.4712],[0.188,0.4748],[0.192,0.4725],[0.196,0.476],[0.2,0.4738],[0.204,0.4772],[0.208,0.475],[0.212,0.478],[0.216,0.4762],[0.22,0.4785],[0.224,0.477],[0.186,0.4695],[0.198,0.4712],[0.176,0.4745],
   [0.17,0.4712],[0.178,0.4718],[0.182,0.4728],[0.19,0.4735],[0.194,0.4745],[0.202,0.4752],[0.206,0.4765],[0.214,0.4772],[0.182,0.4702],[0.19,0.4715],[0.198,0.4728],[0.206,0.474],[0.21,0.4762],[0.218,0.4775]],
  [[0.142,0.466],[0.146,0.4685],[0.15,0.4645],[0.154,0.4705],[0.158,0.4672],[0.162,0.465],[0.166,0.4695],[0.17,0.4668],[0.174,0.4712],[0.178,0.468],[0.182,0.4655],[0.186,0.4698],[0.19,0.4675],[0.194,0.469],[0.148,0.4712],[0.16,0.4716],
   [0.145,0.467],[0.152,0.4665],[0.156,0.4688],[0.164,0.4678],[0.168,0.4655],[0.172,0.4688],[0.176,0.4665],[0.18,0.4695],[0.184,0.4675],[0.188,0.4668],[0.156,0.4655],[0.17,0.4705]],
  [[0.146,0.4605],[0.152,0.4625],[0.158,0.4598],[0.164,0.464],[0.17,0.4615],[0.176,0.4645],[0.182,0.462],[0.188,0.4655],[0.194,0.4628],[0.2,0.4605],[0.206,0.4645],[0.212,0.462],[0.218,0.466],[0.224,0.4632],[0.23,0.4648],[0.236,0.4625],[0.242,0.4645],[0.2,0.466],[0.172,0.4662],
   [0.149,0.4618],[0.155,0.4612],[0.161,0.4628],[0.167,0.4632],[0.173,0.4628],[0.179,0.4632],[0.185,0.4638],[0.191,0.4642],[0.197,0.4618],[0.203,0.4628],[0.209,0.4632],[0.215,0.4638],[0.221,0.4645],[0.227,0.4625],[0.233,0.4635],[0.239,0.463]],
  [[0.194,0.4575],[0.198,0.46],[0.202,0.456],[0.206,0.4612],[0.21,0.4585],[0.214,0.4555],[0.218,0.4605],[0.222,0.458],[0.226,0.4622],[0.23,0.4592],[0.234,0.4565],[0.238,0.461],[0.242,0.4588],[0.246,0.46],[0.225,0.4553],
   [0.196,0.459],[0.2,0.4578],[0.204,0.4595],[0.208,0.4572],[0.212,0.4598],[0.216,0.4578],[0.22,0.4592],[0.224,0.4568],[0.228,0.4605],[0.232,0.4578],[0.236,0.4595],[0.24,0.4575],[0.244,0.4612]],
  [[0.179,0.4515],[0.183,0.454],[0.187,0.4505],[0.191,0.4555],[0.195,0.4525],[0.199,0.45],[0.203,0.4548],[0.207,0.452],[0.211,0.4562],[0.215,0.4535],[0.219,0.4508],[0.223,0.455],[0.227,0.4528],[0.231,0.454],[0.2,0.4564],
   [0.181,0.453],[0.185,0.4522],[0.189,0.4535],[0.193,0.454],[0.197,0.4515],[0.201,0.4532],[0.205,0.4535],[0.209,0.4545],[0.213,0.452],[0.217,0.4545],[0.221,0.4528],[0.225,0.4538],[0.229,0.452]],
  [[0.146,0.4455],[0.151,0.448],[0.156,0.4445],[0.161,0.4495],[0.166,0.4465],[0.171,0.4438],[0.176,0.4488],[0.181,0.446],[0.186,0.4505],[0.191,0.4475],[0.196,0.4445],[0.201,0.4492],[0.206,0.4465],[0.211,0.4508],[0.216,0.4478],[0.22,0.4492],[0.17,0.451],[0.185,0.4432],
   [0.149,0.4465],[0.154,0.4462],[0.159,0.4472],[0.164,0.4482],[0.169,0.4475],[0.174,0.4455],[0.179,0.4475],[0.184,0.4482],[0.189,0.4462],[0.194,0.4478],[0.199,0.4468],[0.204,0.4485],[0.209,0.4478],[0.214,0.4492],[0.218,0.4468]],
  [[0.12,0.4405],[0.125,0.443],[0.13,0.4395],[0.135,0.4442],[0.14,0.4415],[0.145,0.4388],[0.15,0.4435],[0.155,0.441],[0.16,0.4452],[0.165,0.4425],[0.17,0.4395],[0.175,0.4438],[0.18,0.4412],[0.185,0.4445],[0.19,0.4402],[0.194,0.4425],[0.15,0.4385],[0.208,0.44],
   [0.123,0.4418],[0.128,0.4412],[0.133,0.4425],[0.138,0.4405],[0.143,0.442],[0.148,0.441],[0.153,0.4425],[0.158,0.4418],[0.163,0.4408],[0.168,0.4435],[0.173,0.4418],[0.178,0.4428],[0.183,0.4408],[0.188,0.4425]],
  [[0.069,0.4355],[0.074,0.4338],[0.08,0.4368],[0.086,0.4345],[0.092,0.4328],[0.098,0.436],[0.104,0.4338],[0.11,0.4372],[0.116,0.435],[0.122,0.4325],[0.128,0.4362],[0.134,0.434],[0.14,0.4372],[0.146,0.435],[0.152,0.4328],[0.158,0.4358],[0.164,0.4338],[0.17,0.4365],[0.176,0.4342],[0.183,0.4355],[0.11,0.4322],[0.14,0.4322],
   [0.072,0.4345],[0.078,0.4352],[0.083,0.434],[0.089,0.4358],[0.095,0.4345],[0.101,0.4352],[0.107,0.4355],[0.113,0.4338],[0.119,0.4358],[0.125,0.4345],[0.131,0.4352],[0.137,0.4355],[0.143,0.4338],[0.149,0.4362],[0.155,0.4342],[0.161,0.4348],[0.167,0.4352],[0.173,0.4355],[0.179,0.4345],[0.095,0.433],[0.125,0.4332],[0.155,0.433]]
];
const colorbarTicks = [-1, -1.5, -2, -2.5, -3, -3.5, -4];

// ---------- colour map for log10 loading velocity ----------
const parula = d3.scaleLinear()
  .domain([-4,-3.6,-3.25,-3.0,-2.7,-2.4,-2.1,-1.85,-1.65,-1.45,-1.3,-1.15,-1.0])
  .range(['#3b3a8f','#3d5cbf','#3680cf','#229ddb','#17b2cc','#2fb8a6','#6fbf6e','#a6c03d','#d2b72f','#f4b23b','#fbba3a','#f6d02a','#f0e31e'])
  .clamp(true);

// ---------- page ----------
const svg = d3.select('body').append('svg').attr('width', 1104).attr('height', 710);
const INK = '#262626';
const plain = d => String(+(+d).toFixed(4));

function styleAxis(sel, fs) {
  sel.attr('font-family', null).attr('font-size', null).attr('color', INK);
  sel.selectAll('path.domain, .tick line').attr('stroke-width', 0.8);
  sel.selectAll('text').attr('font-size', (fs || 10.5) + 'px').attr('fill', INK);
  return sel;
}

function linearBox(box, xDom, yDom, xTicks, yTicks, yLabelled) {
  const x = d3.scaleLinear(xDom, [box.l, box.r]);
  const y = d3.scaleLinear(yDom, [box.b, box.t]);
  const g = svg.append('g');
  const fy = d => yLabelled.some(v => Math.abs(v - d) < 1e-9) ? plain(d) : '';
  styleAxis(g.append('g').attr('transform', `translate(0,${box.b})`)
    .call(d3.axisBottom(x).tickValues(xTicks).tickSize(-4).tickSizeOuter(0).tickPadding(7).tickFormat(plain)));
  styleAxis(g.append('g').attr('transform', `translate(0,${box.t})`)
    .call(d3.axisTop(x).tickValues(xTicks).tickSize(-4).tickSizeOuter(0).tickFormat('')));
  styleAxis(g.append('g').attr('transform', `translate(${box.l},0)`)
    .call(d3.axisLeft(y).tickValues(yTicks).tickSize(-4).tickSizeOuter(0).tickPadding(5).tickFormat(fy)));
  styleAxis(g.append('g').attr('transform', `translate(${box.r},0)`)
    .call(d3.axisRight(y).tickValues(yTicks).tickSize(-4).tickSizeOuter(0).tickFormat('')));
  return { x, y };
}

function decadeTicks(dom) {
  const lo = Math.round(Math.log10(dom[0])), hi = Math.round(Math.log10(dom[1]));
  const major = d3.range(lo, hi + 1).map(k => Math.pow(10, k));
  const minor = [];
  d3.range(lo, hi).forEach(k => { for (let m = 2; m <= 9; m++) minor.push(m * Math.pow(10, k)); });
  return { major, minor };
}
function powerLabels(sel) {
  sel.selectAll('.tick text').each(function (d) {
    const t = d3.select(this), e = Math.round(Math.log10(d));
    t.text('10');
    t.append('tspan').attr('dy', '-0.55em').attr('font-size', '7.5px').text(e);
  });
}
function logBox(box, xDom, yDom) {
  const x = d3.scaleLog(xDom, [box.l, box.r]);
  const y = d3.scaleLog(yDom, [box.b, box.t]);
  const tx = decadeTicks(xDom), ty = decadeTicks(yDom);
  const g = svg.append('g');
  const bottom = styleAxis(g.append('g').attr('transform', `translate(0,${box.b})`)
    .call(d3.axisBottom(x).tickValues(tx.major).tickSize(-5).tickSizeOuter(0).tickPadding(9).tickFormat(plain)));
  powerLabels(bottom);
  const left = styleAxis(g.append('g').attr('transform', `translate(${box.l},0)`)
    .call(d3.axisLeft(y).tickValues(ty.major).tickSize(-5).tickSizeOuter(0).tickPadding(3).tickFormat(plain)));
  powerLabels(left);
  styleAxis(g.append('g').attr('transform', `translate(0,${box.t})`)
    .call(d3.axisTop(x).tickValues(tx.major).tickSize(-5).tickSizeOuter(0).tickFormat('')));
  styleAxis(g.append('g').attr('transform', `translate(${box.r},0)`)
    .call(d3.axisRight(y).tickValues(ty.major).tickSize(-5).tickSizeOuter(0).tickFormat('')));
  [[d3.axisBottom, box.b], [d3.axisTop, box.t]].forEach(([ax, p]) =>
    styleAxis(g.append('g').attr('transform', `translate(0,${p})`)
      .call(ax(x).tickValues(tx.minor).tickSize(-2.5).tickSizeOuter(0).tickFormat(''))));
  [[d3.axisLeft, box.l], [d3.axisRight, box.r]].forEach(([ax, p]) =>
    styleAxis(g.append('g').attr('transform', `translate(${p},0)`)
      .call(ax(y).tickValues(ty.minor).tickSize(-2.5).tickSizeOuter(0).tickFormat(''))));
  return { x, y };
}

function openAxes(box, xDom, yDom, xTicks, yTicks, xPad) {
  const x = d3.scaleLinear(xDom, [box.l, box.r]);
  const y = d3.scaleLinear(yDom, [box.b, box.t]);
  const g = svg.append('g');
  styleAxis(g.append('g').attr('transform', `translate(0,${box.b})`)
    .call(d3.axisBottom(x).tickValues(xTicks).tickSize(-4).tickSizeOuter(0).tickPadding(xPad).tickFormat(plain)));
  styleAxis(g.append('g').attr('transform', `translate(${box.l},0)`)
    .call(d3.axisLeft(y).tickValues(yTicks).tickSize(-4).tickSizeOuter(0).tickPadding(2).tickFormat(plain)));
  return { x, y };
}

function panelTag(x, y, w, h, ch) {
  svg.append('rect').attr('x', x).attr('y', y).attr('width', w).attr('height', h).attr('rx', 4)
    .attr('fill', '#fff').attr('stroke', '#111').attr('stroke-width', 1);
  svg.append('text').attr('x', x + w / 2).attr('y', y + h / 2 + 7).attr('text-anchor', 'middle')
    .attr('font-size', '22px').attr('fill', '#111').text(ch);
}
function title(cx, base, txt) {
  svg.append('text').attr('x', cx).attr('y', base).attr('text-anchor', 'middle')
    .attr('font-size', '18.5px').attr('fill', '#1a1a1a').text(txt);
}
function xLabel(cx, base, main, sub, rest) {
  const t = svg.append('text').attr('x', cx).attr('y', base).attr('text-anchor', 'middle')
    .attr('font-size', '12px').attr('fill', INK).text(main);
  if (sub) {
    t.append('tspan').attr('dy', 3).attr('font-size', '7.5px').text(sub);
    t.append('tspan').attr('dy', -3).text(rest);
  }
}
function yLabel(bx, cy, main, sub, rest) {
  const t = svg.append('text').attr('transform', `translate(${bx},${cy}) rotate(-90)`)
    .attr('text-anchor', 'middle').attr('font-size', '12px').attr('fill', INK).text(main);
  if (sub) {
    t.append('tspan').attr('dy', 3).attr('font-size', '7.5px').text(sub);
    t.append('tspan').attr('dy', -3).text(rest);
  }
}
function legend(x, base, step, slopes, errs) {
  slopes.forEach((s, i) => {
    const t = svg.append('text').attr('x', x).attr('y', base + i * step)
      .attr('font-size', '11px').attr('fill', seriesColors[i]);
    t.append('tspan').attr('font-style', 'italic').text('σ');
    t.append('tspan').attr('dy', 3.5).attr('font-size', '8.5px').text('N');
    t.append('tspan').attr('dy', -3.5).text(` = ${stressKPa[i]} kPa : ${s.toFixed(3)}\u2009± ${errs[i].toFixed(3)}`);
  });
}
function dots(sc, pts, color, r, logged) {
  const fx = logged ? d => sc.x(Math.pow(10, d[0])) : d => sc.x(d[0]);
  const fy = logged ? d => sc.y(Math.pow(10, d[1])) : d => sc.y(d[1]);
  svg.append('g').selectAll('circle').data(pts).join('circle')
    .attr('cx', fx).attr('cy', fy).attr('r', r).attr('fill', color);
}
const flatten = strips => strips.flatMap(([xv, ys]) => ys.map(yv => [xv, yv]));
function fitLine(sc, mid, slope, span, color, logged) {
  const pts = span.map(v => [v, mid[1] + slope * (v - mid[0])]);
  const line = logged
    ? d3.line().x(d => sc.x(Math.pow(10, d[0]))).y(d => sc.y(Math.pow(10, d[1])))
    : d3.line().x(d => sc.x(d[0])).y(d => sc.y(d[1]));
  svg.append('path').attr('d', line(pts)).attr('fill', 'none').attr('stroke', color).attr('stroke-width', 1);
}
function dashedArrow(p0, p1) {
  const ang = Math.atan2(p1[1] - p0[1], p1[0] - p0[0]);
  const L = 11, Wd = 5;
  const bx = p1[0] - L * Math.cos(ang), by = p1[1] - L * Math.sin(ang);
  const dash = ['2', '5'].concat(d3.range(30).flatMap(() => ['7', '5'])).join(',');
  svg.append('line').attr('x1', p0[0]).attr('y1', p0[1]).attr('x2', bx).attr('y2', by)
    .attr('stroke', '#111').attr('stroke-width', 3).attr('stroke-dasharray', dash);
  const nx = -Math.sin(ang), ny = Math.cos(ang);
  svg.append('polygon').attr('fill', '#111')
    .attr('points', [[p1[0], p1[1]], [bx + nx * Wd, by + ny * Wd], [p1[0] - (L - 3) * Math.cos(ang), p1[1] - (L - 3) * Math.sin(ang)], [bx - nx * Wd, by - ny * Wd]].map(p => p.join(',')).join(' '));
}
function rotatedNote(p, angle, txt, fs) {
  svg.append('text').attr('transform', `translate(${p[0]},${p[1]}) rotate(${angle})`)
    .attr('text-anchor', 'middle').attr('font-size', fs + 'px').attr('fill', INK).text(txt);
}
function colorbar(x0, y0, w, h, labelX, labelY, id) {
  const s = d3.scaleLinear([-4, -1], [y0 + h, y0]);
  const grad = svg.append('defs').append('linearGradient').attr('id', id)
    .attr('x1', 0).attr('y1', 1).attr('x2', 0).attr('y2', 0);
  d3.range(0, 1.0001, 0.02).forEach(f => grad.append('stop').attr('offset', f).attr('stop-color', parula(-4 + 3 * f)));
  svg.append('rect').attr('x', x0).attr('y', y0).attr('width', w).attr('height', h)
    .attr('fill', `url(#${id})`).attr('stroke', '#555').attr('stroke-width', 0.9);
  styleAxis(svg.append('g').attr('transform', `translate(${x0 + w},0)`)
    .call(d3.axisRight(s).tickValues(colorbarTicks).tickSize(-3).tickSizeOuter(0).tickPadding(3).tickFormat(plain)))
    .select('path.domain').attr('stroke', '#555');
  const t = svg.append('text').attr('transform', `translate(${labelX},${labelY}) rotate(-90)`)
    .attr('text-anchor', 'middle').attr('font-size', '13px').attr('fill', '#111').text('log');
  t.append('tspan').attr('dy', 4).attr('font-size', '8px').text(' 10');
  t.append('tspan').attr('dy', -4).text(' loading velocity [mm/s]');
}
function openCircles(sc, pts, colorOf) {
  svg.append('g').selectAll('circle').data(pts).join('circle')
    .attr('cx', d => sc.x(d[0])).attr('cy', d => sc.y(d[1])).attr('r', 2.4)
    .attr('fill', 'none').attr('stroke', colorOf).attr('stroke-width', 0.8);
}

// ================= panel a : a-b stiff =================
const boxA = { l: 49.3, r: 321.7, t: 39.3, b: 311.7 };
const scA = linearBox(boxA, [-9, -2.5], [0.46, 0.55], d3.range(-9, -2.5, 1),
  [0.46, 0.47, 0.48, 0.49, 0.5, 0.51, 0.52, 0.53, 0.54], [0.46, 0.48, 0.5, 0.52, 0.54]);
[abStiff5, abStiff10, abStiff15, abStiff20].forEach((s, i) => dots(scA, flatten(s), seriesColors[i], 1.45, false));
abStiffSlope.forEach((s, i) => fitLine(scA, abStiffFitMid[i], s, abStiffFitSpan[i], seriesColors[i], false));
dashedArrow([scA.x(-7.28), scA.y(0.5186)], [scA.x(-4.23), scA.y(0.4829)]);
rotatedNote([scA.x(-6.13), scA.y(0.4998)], 40, 'decrease in friction', 12);
rotatedNote([scA.x(-6.36), scA.y(0.4966)], 40, 'with increasing velocity', 12);
legend(59.3, 245.5, 18.4, abStiffSlope, abStiffErr);
panelTag(11.7, 5, 23.3, 30, 'a');
title(188, 21.7, 'a-b stiff');
xLabel(185.5, 341, 'ln loading velocity V', 'L', ' [mm/s]');
yLabel(19.5, 172, 'friction μ', 'p', ' []');

// ================= panel b : creep, stiff =================
const boxB = { l: 400.7, r: 671.7, t: 45, b: 315 };
const scB = openAxes(boxB, [0, 0.6], [0.46, 0.56], d3.range(0, 0.61, 0.1), d3.range(0.46, 0.561, 0.02), 8);
creepStiffPts.forEach((pts, i) => openCircles(scB, pts, parula(creepStiffLogV[i])));
dashedArrow([scB.x(0.113), scB.y(0.5359)], [scB.x(0.231), scB.y(0.5551)]);
rotatedNote([scB.x(0.127), scB.y(0.5524)], -40, 'healing effect due to', 11.5);
rotatedNote([scB.x(0.15), scB.y(0.5486)], -40, 'interseismic transients', 11.5);
colorbar(659.3, 66, 22.4, 212.3, 717, 172, 'cbB');
panelTag(371, 5, 22.5, 29, 'b');
title(536.5, 20.5, 'Creep and peak strength');
xLabel(536, 344, 'creep []');
yLabel(358, 165, 'friction μ', 'p', ' []');

// ================= panel c (upper) : recurrence, stiff =================
const boxC = { l: 819.3, r: 1091.7, t: 39.3, b: 311.7 };
const scC = logBox(boxC, [1e-4, 1e-1], [1e-1, 1e3]);
[recStiff5, recStiff10, recStiff15, recStiff20].forEach((s, i) => dots(scC, flatten(s), seriesColors[i], 1.45, true));
recStiffSlope.forEach((s, i) => fitLine(scC, recStiffFitMid[i], s, recStiffFitSpan[i], seriesColors[i], true));
legend(828.3, 246, 18.4, recStiffSlope, recStiffErr);
panelTag(767.3, 7, 25, 28, 'c');
title(961.7, 21.7, 'recurrence vs. loading, stiff');
xLabel(955.5, 341, 'loading velocity V', 'L', ' [mm/s]');
yLabel(792, 178, 'recurrence time [s]');

// ================= panel c (lower) : a-b soft =================
const boxC2 = { l: 49.3, r: 321.7, t: 394.3, b: 666.7 };
const scC2 = linearBox(boxC2, [-9, -2.5], [0.40, 0.54], d3.range(-9, -2.5, 1),
  [0.42, 0.44, 0.46, 0.48, 0.5, 0.52], [0.42, 0.46, 0.5, 0.54]);
[abSoft5, abSoft10, abSoft15, abSoft20].forEach((s, i) => dots(scC2, flatten(s), seriesColors[i], 1.45, false));
abSoftSlope.forEach((s, i) => fitLine(scC2, abSoftFitMid[i], s, abSoftFitSpan[i], seriesColors[i], false));
legend(59.3, 602, 18.1, abSoftSlope, abSoftErr);
panelTag(11.7, 349.3, 23.3, 30, 'c');
title(187.7, 385, 'a-b soft');
xLabel(185.5, 700, 'ln loading velocity V', 'L', ' [mm/s]');
yLabel(19.5, 531, 'friction μ', 'p', ' []');

// ================= panel d : creep, soft =================
const boxD = { l: 400.7, r: 671.7, t: 404, b: 678.3 };
const scD = openAxes(boxD, [0, 0.6], [0.42, 0.52], d3.range(0, 0.61, 0.1), d3.range(0.42, 0.521, 0.02), 3);
openCircles(scD, creepSoftColumn, d => parula(d[2]));
creepSoftPts.forEach((pts, i) => openCircles(scD, pts, parula(creepSoftLogV[i])));
dashedArrow([scD.x(0.1645), scD.y(0.4838)], [scD.x(0.2847), scD.y(0.5029)]);
dashedArrow([scD.x(0.0686), scD.y(0.4297)], [scD.x(0.211), scD.y(0.4291)]);
svg.append('line').attr('x1', scD.x(0.1253)).attr('y1', scD.y(0.4519)).attr('x2', scD.x(0.248)).attr('y2', scD.y(0.4714))
  .attr('stroke', '#111').attr('stroke-width', 0.9);
const sep = svg.append('text').attr('x', scD.x(0.2641)).attr('y', scD.y(0.4697)).attr('font-size', '10.5px').attr('fill', INK).text('separation ~10');
sep.append('tspan').attr('dy', -4).attr('font-size', '5.5px').text('-2.25');
sep.append('tspan').attr('dy', 4).text(' mm/s');
colorbar(659.3, 425, 22.4, 211.7, 719, 525, 'cbD');
panelTag(371, 348.3, 22.5, 30, 'd');
title(536.5, 385, 'Creep and peak strength');
xLabel(536, 704.5, 'creep []');
yLabel(358, 531, 'friction μ', 'p', ' []');

// ================= panel e : recurrence, soft =================
const boxE = { l: 819.3, r: 1091.7, t: 395, b: 666.7 };
const scE = logBox(boxE, [1e-4, 1e-1], [1e-1, 1e4]);
[recSoft5, recSoft10, recSoft15, recSoft20].forEach((s, i) => dots(scE, flatten(s), seriesColors[i], 1.45, true));
recSoftSlope.forEach((s, i) => fitLine(scE, recSoftFitMid[i], s, recSoftFitSpan[i], seriesColors[i], true));
legend(828.3, 603, 18.4, recSoftSlope, recSoftErr);
panelTag(767.3, 350, 25, 29.3, 'e');
title(961.7, 385, 'recurrence vs. loading, soft');
xLabel(955.5, 700, 'loading velocity V', 'L', ' [mm/s]');
yLabel(792, 531, 'recurrence time [s]');
</script>
</body></html>
